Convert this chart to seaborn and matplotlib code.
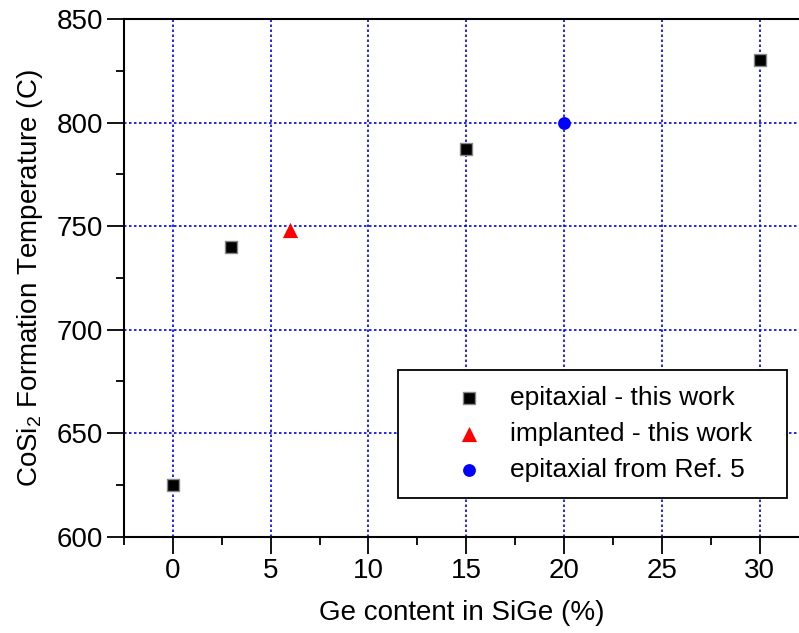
import pandas as pd
import matplotlib
matplotlib.use("Agg")
import matplotlib.pyplot as plt
import seaborn as sns
from matplotlib.ticker import MultipleLocator

# data
ge_epi = [0, 3, 15, 30]
temp_epi = [625, 740, 787, 830]
ge_impl = [6]
temp_impl = [748]
ge_ref = [20]
temp_ref = [800]
series_names = ["epitaxial - this work", "implanted - this work", "epitaxial from Ref. 5"]

df = pd.DataFrame({
    "ge": ge_epi + ge_impl + ge_ref,
    "temp": temp_epi + temp_impl + temp_ref,
    "series": [series_names[0]] * len(ge_epi)
              + [series_names[1]] * len(ge_impl)
              + [series_names[2]] * len(ge_ref),
})

sns.set_style("ticks")
plt.rcParams["font.family"] = ["Liberation Sans", "DejaVu Sans"]
plt.rcParams["mathtext.fontset"] = "custom"
plt.rcParams["mathtext.rm"] = "Liberation Sans"
plt.rcParams["mathtext.it"] = "Liberation Sans:italic"
plt.rcParams["text.color"] = "black"
plt.rcParams["axes.labelcolor"] = "black"
plt.rcParams["xtick.color"] = "black"
plt.rcParams["ytick.color"] = "black"

fig = plt.figure(figsize=(7.99, 6.33), dpi=100)
ax = fig.add_axes([0.155, 0.152, 0.845, 0.818])

palette = {series_names[0]: "black", series_names[1]: "red", series_names[2]: "blue"}
markers = {series_names[0]: "s", series_names[1]: "^", series_names[2]: "o"}
sizes = {series_names[0]: 70, series_names[1]: 120, series_names[2]: 85}

for name in series_names:
    sub = df[df["series"] == name]
    sns.scatterplot(data=sub, x="ge", y="temp", color=palette[name],
                    marker=markers[name], s=sizes[name],
                    edgecolor="#888888" if name == series_names[0] else palette[name],
                    linewidth=1.0 if name == series_names[0] else 0,
                    label=name, ax=ax, zorder=3)

ax.set_xlim(-2.5, 32)
ax.set_ylim(600, 850)
ax.xaxis.set_major_locator(MultipleLocator(5))
ax.xaxis.set_minor_locator(MultipleLocator(2.5))
ax.yaxis.set_major_locator(MultipleLocator(50))
ax.yaxis.set_minor_locator(MultipleLocator(25))

ax.grid(True, which="major", color="#0000ff", linestyle=(0, (1.5, 1.5)), linewidth=1.2)
ax.tick_params(which="major", direction="out", length=12, width=1.3, labelsize=20, pad=3,
               colors="black")
ax.tick_params(which="minor", direction="out", length=6, width=1.3, colors="black")
for s in ["left", "bottom", "top"]:
    ax.spines[s].set_linewidth(1.5)
    ax.spines[s].set_color("black")
ax.spines["right"].set_visible(False)

ax.set_xlabel("Ge content in SiGe (%)", fontsize=20, labelpad=12)
ax.set_ylabel("CoSi$_2$ Formation Temperature (C)", fontsize=20, labelpad=8)

leg = ax.legend(loc="lower left", bbox_to_anchor=(0.406, 0.0753, 0.576, 0.25),
                mode="expand", fontsize=19,
                frameon=True, fancybox=False, edgecolor="black", framealpha=1,
                borderpad=0.6, handletextpad=-0.55, labelspacing=0.45,
                borderaxespad=0, handlelength=4.2)
leg.get_frame().set_linewidth(1.3)

fig.savefig("out.png", dpi=100)
